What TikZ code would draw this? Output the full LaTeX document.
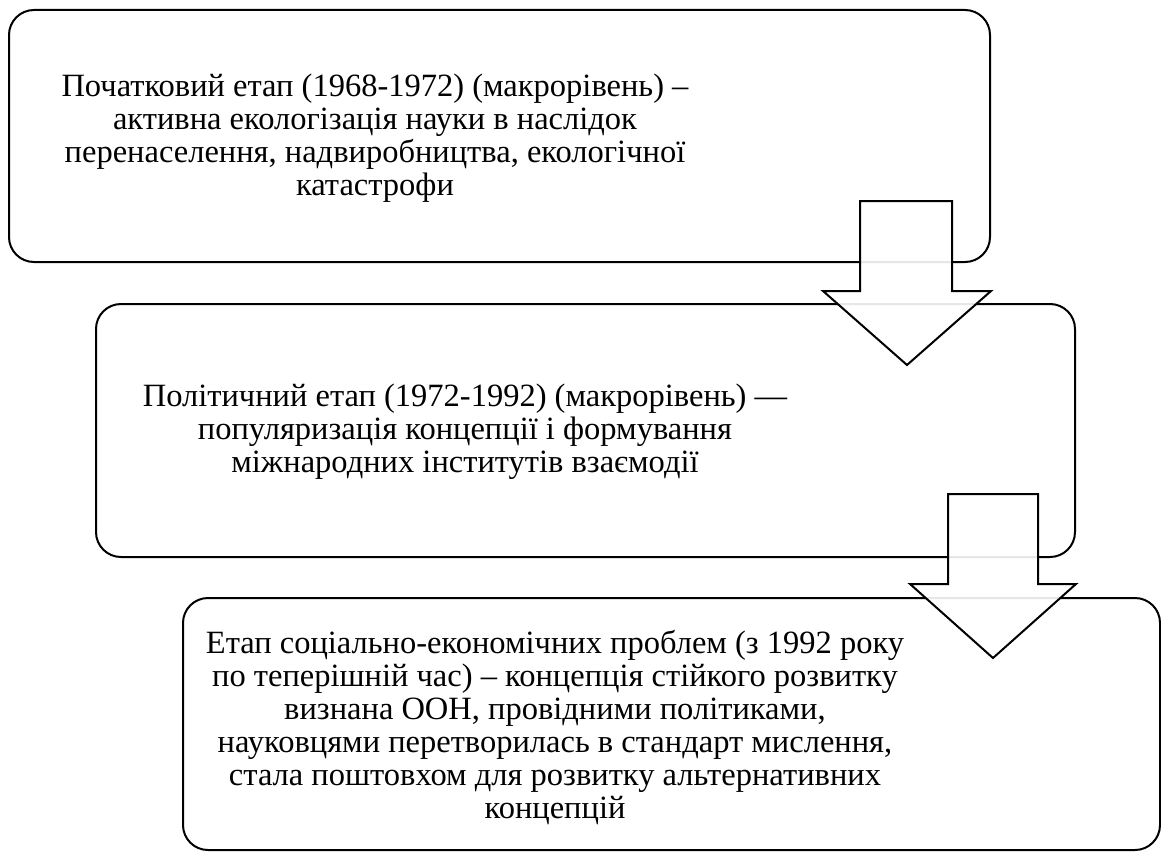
\documentclass[tikz,border=0pt]{standalone}
\usepackage{fontspec}
\setmainfont{Liberation Serif}
\newfontfamily\tnr{Liberation Serif}
\begin{document}
\begin{tikzpicture}[x=1pt,y=-1pt,
  stagebox/.style={draw=black,line width=2pt,rounded corners=25pt,fill=white},
  downarrow/.style={draw=black,line width=2pt,fill=white,fill opacity=0.9,line join=miter},
  stagetext/.style={align=center,font=\tnr\fontsize{32.5}{33}\selectfont,inner sep=0pt}]
\useasboundingbox (0,0) rectangle (1161,851);
% boxes
\draw[stagebox] (9,10) rectangle (990,262);
\draw[stagebox] (96,304) rectangle (1075,557);
\draw[stagebox] (183,598) rectangle (1160,850);
% texts
\node[stagetext] (t1) at (375,138) {Початковий етап (1968-1972) (макрорівень) –\\активна екологізація науки в наслідок\\перенаселення, надвиробництва, екологічної\\катастрофи};
\node[stagetext] (t2) at (465,432) {Політичний етап (1972-1992) (макрорівень) —\\популяризація концепції і формування\\міжнародних інститутів взаємодії};
\node[stagetext] (t3) at (555,727) {Етап соціально-економічних проблем (з 1992 року\\по теперішній час) – концепція стійкого розвитку\\визнана ООН, провідними політиками,\\науковцями перетворилась в стандарт мислення,\\стала поштовхом для розвитку альтернативних\\концепцій};
% arrows
\draw[downarrow] (860,201) -- (952,201) -- (952,291) -- (991,291) -- (907,365) -- (823,291) -- (860,291) -- cycle;
\draw[downarrow] (948,494) -- (1038,494) -- (1038,584) -- (1076,584) -- (993,658) -- (910,584) -- (948,584) -- cycle;
\end{tikzpicture}
\end{document}
